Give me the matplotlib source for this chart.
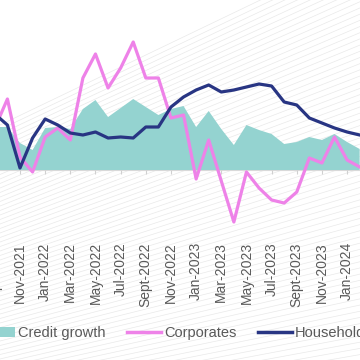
import numpy as np
import matplotlib.pyplot as plt
from matplotlib.lines import Line2D
from matplotlib.patches import Patch

# Monthly data, Sept-2021 .. Feb-2024 (chart is cropped on both sides)
months = ["Sept-2021", "Oct-2021", "Nov-2021", "Dec-2021", "Jan-2022", "Feb-2022",
          "Mar-2022", "Apr-2022", "May-2022", "Jun-2022", "Jul-2022", "Aug-2022",
          "Sept-2022", "Oct-2022", "Nov-2022", "Dec-2022", "Jan-2023", "Feb-2023",
          "Mar-2023", "Apr-2023", "May-2023", "Jun-2023", "Jul-2023", "Aug-2023",
          "Sept-2023", "Oct-2023", "Nov-2023", "Dec-2023", "Jan-2024", "Feb-2024"]

credit_growth = [4.3, 4.3, 2.7, 2.0, 4.2, 4.3, 4.1, 6.1, 7.0, 5.3, 6.2, 7.1, 6.3, 5.5, 6.1,
                 6.4, 4.3, 5.9, 4.1, 2.5, 4.5, 4.0, 3.6, 2.6, 2.8, 3.3, 3.0, 3.6, 2.8, 2.1]
corporates = [4.2, 7.1, 1.3, -0.2, 3.3, 4.2, 3.0, 9.2, 11.6, 8.2, 10.2, 12.8, 9.2, 9.2, 5.2,
              5.5, -0.9, 3.0, -1.1, -5.2, -0.2, -1.8, -3.0, -3.3, -2.2, 1.2, 0.7, 3.3, 1.0, 0.3]
households = [5.6, 4.5, 0.2, 3.2, 5.1, 4.5, 3.7, 3.5, 3.8, 3.2, 3.3, 3.2, 4.3, 4.3, 6.3,
              7.3, 8.0, 8.5, 7.8, 8.0, 8.3, 8.6, 8.4, 6.8, 6.5, 5.2, 4.7, 4.2, 3.8, 3.5]

teal = "#94d3d0"
pink = "#ee82e8"
navy = "#283583"
grey_text = "#595959"

plt.rcParams['font.family'] = ['Liberation Sans', 'DejaVu Sans']

fig = plt.figure(figsize=(3.6, 3.6), dpi=100)
fig.patch.set_facecolor("white")

# faint decorative background stripes (pixel coords -> figure fraction)
bg = fig.add_axes([0, 0, 1, 1], zorder=0)
bg.set_xlim(0, 360)
bg.set_ylim(360, 0)
bg.axis("off")
xs = np.array([0, 360])
for y0 in np.arange(125, 470, 4.5):
    slope = -0.48 + 0.36 * (y0 - 125) / 345
    bg.plot(xs, y0 + slope * xs, color="#e9e9e9", lw=0.5)

# main axes placed so that the chart runs off both edges like the crop
W, H = 360.0, 360.0
x0_px, dx_px = -5.16, 12.58        # pixel position of first month, px per month
zero_px, px_per_unit = 170.0, 10.0
xlim = (-1, 30)
ylim = (-6.8, 15)
left = (x0_px + xlim[0] * dx_px) / W
width = (xlim[1] - xlim[0]) * dx_px / W
top_px = zero_px - ylim[1] * px_per_unit
bot_px = zero_px - ylim[0] * px_per_unit
ax = fig.add_axes([left, 1 - bot_px / H, width, (bot_px - top_px) / H], zorder=1)
ax.patch.set_alpha(0)

x = np.arange(len(months))
ax.fill_between(x, 0, credit_growth, color=teal, lw=0, zorder=1)
ax.plot(x, corporates, color=pink, lw=2.3, zorder=2)
ax.plot(x, households, color=navy, lw=2.3, zorder=3)

ax.axhline(0, color="#d9d9d9", lw=0.8, zorder=0.5)
tick_idx = x[::2]
ax.vlines(tick_idx, -0.35, 0, color="#d0d0d0", lw=0.8, zorder=0.5)

ax.set_xlim(*xlim)
ax.set_ylim(*ylim)
ax.set_xticks(tick_idx)
ax.set_xticklabels([months[i] for i in tick_idx], rotation=90, fontsize=10, color=grey_text)
ax.tick_params(axis="x", length=0, pad=3)
ax.set_yticks([])
for s in ax.spines.values():
    s.set_visible(False)

handles = [Patch(facecolor=teal, edgecolor="none"),
           Line2D([], [], color=pink, lw=2.5),
           Line2D([], [], color=navy, lw=2.5)]
leg = fig.legend(handles, ["Credit growth", "Corporates", "Households"],
                 loc="center left", bbox_to_anchor=(-19 / W, 1 - 333 / H),
                 ncol=3, frameon=False, fontsize=10.5, handlelength=2.35,
                 handleheight=0.7, handletextpad=0.2, columnspacing=1.45,
                 borderpad=0, borderaxespad=0)
for t in leg.get_texts():
    t.set_color(grey_text)

fig.savefig("out.png", dpi=100)
